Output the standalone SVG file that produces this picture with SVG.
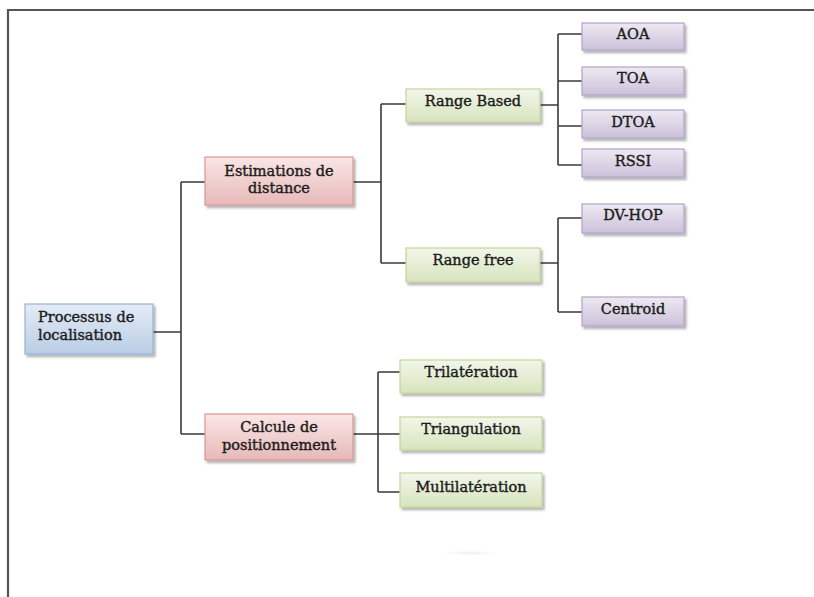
<svg xmlns="http://www.w3.org/2000/svg" width="814" height="597" viewBox="0 0 814 597">
  <defs>
    <linearGradient id="gBlue" x1="0" y1="0" x2="0" y2="1">
      <stop offset="0" stop-color="#e4ecf6"/>
      <stop offset="1" stop-color="#b9cde5"/>
    </linearGradient>
    <linearGradient id="gRed" x1="0" y1="0" x2="0" y2="1">
      <stop offset="0" stop-color="#fbe6e6"/>
      <stop offset="1" stop-color="#e6b9b8"/>
    </linearGradient>
    <linearGradient id="gGreen" x1="0" y1="0" x2="0" y2="1">
      <stop offset="0" stop-color="#f2f6ea"/>
      <stop offset="1" stop-color="#d7e4bd"/>
    </linearGradient>
    <linearGradient id="gPurple" x1="0" y1="0" x2="0" y2="1">
      <stop offset="0" stop-color="#ede9f2"/>
      <stop offset="1" stop-color="#ccc1da"/>
    </linearGradient>
    <filter id="shadow" x="-10%" y="-20%" width="130%" height="160%">
      <feDropShadow dx="2" dy="2.5" stdDeviation="1" flood-color="#000" flood-opacity="0.3"/>
    </filter>
    <radialGradient id="smudge">
      <stop offset="0" stop-color="#e8eedd"/>
      <stop offset="1" stop-color="#ffffff" stop-opacity="0"/>
    </radialGradient>
  </defs>
  <style>
    .box { stroke-width: 1.2; filter: url(#shadow); }
    .blue { fill: url(#gBlue); stroke: #95b3d7; }
    .red { fill: url(#gRed); stroke: #d99694; }
    .green { fill: url(#gGreen); stroke: #c3d69b; }
    .purple { fill: url(#gPurple); stroke: #b3a2c7; }
    text { font-family: "DejaVu Serif", "Liberation Serif", serif; font-size: 14.5px; fill: #1c1c1c; stroke: #1c1c1c; stroke-width: 0.4; text-anchor: middle; }
    .left { text-anchor: start; }
    .wire { fill: none; stroke: #3a3a3a; stroke-width: 1.6; }
    .frame { fill: none; stroke: #555; stroke-width: 2.2; }
  </style>

  <rect width="814" height="597" fill="#ffffff"/>
  <!-- page frame -->
  <path class="frame" d="M814 10 H8 V597"/>
  <ellipse cx="470" cy="553" rx="36" ry="3" fill="url(#smudge)"/>

  <g id="connectors">
    <path class="wire" d="M153 332 H181 M181 182 V434 M181 182 H205 M181 434 H205"/>
    <path class="wire" d="M353 182 H381 M381 104 V263 M381 104 H406 M381 263 H406"/>
    <path class="wire" d="M540 105 H558 M558 34 V165 M558 34 H582 M558 81 H582 M558 126 H582 M558 165 H582"/>
    <path class="wire" d="M540 263 H558 M558 218 V312 M558 218 H582 M558 312 H582"/>
    <path class="wire" d="M353 434 H400 M378 372 V492 M378 372 H400 M378 492 H400"/>
  </g>

  <g id="processus">
    <rect class="box blue" x="25" y="304" width="128" height="50"/>
    <text class="left" x="38" y="322">Processus de</text>
    <text class="left" x="38" y="340">localisation</text>
  </g>

  <g id="estimations">
    <rect class="box red" x="205" y="157" width="148" height="48"/>
    <text x="279" y="176">Estimations de</text>
    <text x="279" y="193">distance</text>
  </g>

  <g id="calcule">
    <rect class="box red" x="205" y="414" width="148" height="46"/>
    <text x="279" y="432">Calcule de</text>
    <text x="279" y="450">positionnement</text>
  </g>

  <g id="range-based">
    <rect class="box green" x="406" y="89" width="134" height="33"/>
    <text x="473" y="106">Range Based</text>
  </g>

  <g id="range-free">
    <rect class="box green" x="406" y="248" width="134" height="34"/>
    <text x="473" y="265">Range free</text>
  </g>

  <g id="aoa">
    <rect class="box purple" x="582" y="23" width="102" height="27"/>
    <text x="633" y="39">AOA</text>
  </g>

  <g id="toa">
    <rect class="box purple" x="582" y="67" width="102" height="28"/>
    <text x="633" y="83">TOA</text>
  </g>

  <g id="dtoa">
    <rect class="box purple" x="582" y="110" width="102" height="28"/>
    <text x="633" y="127">DTOA</text>
  </g>

  <g id="rssi">
    <rect class="box purple" x="582" y="149" width="102" height="28"/>
    <text x="633" y="166">RSSI</text>
  </g>

  <g id="dv-hop">
    <rect class="box purple" x="582" y="204" width="102" height="29"/>
    <text x="633" y="220">DV-HOP</text>
  </g>

  <g id="centroid">
    <rect class="box purple" x="582" y="297" width="102" height="29"/>
    <text x="633" y="314">Centroid</text>
  </g>

  <g id="trilateration">
    <rect class="box green" x="400" y="360" width="142" height="33"/>
    <text x="471" y="377">Trilatération</text>
  </g>

  <g id="triangulation">
    <rect class="box green" x="400" y="417" width="142" height="33"/>
    <text x="471" y="434">Triangulation</text>
  </g>

  <g id="multilateration">
    <rect class="box green" x="400" y="473" width="142" height="34"/>
    <text x="471" y="492">Multilatération</text>
  </g>
</svg>
